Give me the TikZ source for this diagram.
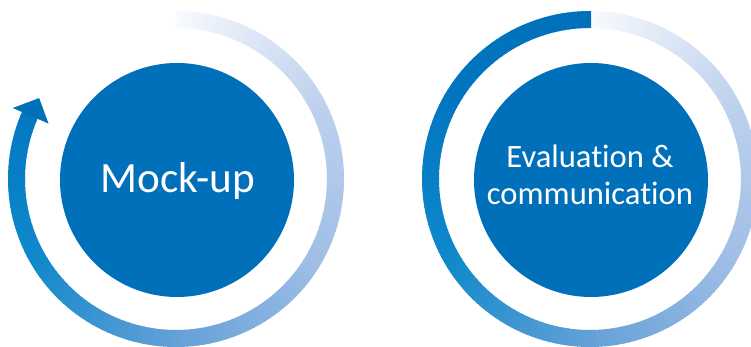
\documentclass[tikz,border=0pt]{standalone}
\usepackage{fontspec}
\setmainfont{Carlito}[Ligatures=NoCommon,Contextuals=NoAlternate]
\usetikzlibrary{calc}

\definecolor{discblue}{HTML}{0070BA}
\definecolor{ring0}{HTML}{F8FAFE}
\definecolor{ring1}{HTML}{C0D2EE}
\definecolor{ring2}{HTML}{A0BEE6}
\definecolor{ring3}{HTML}{64A0D7}
\definecolor{ring4}{HTML}{1089CB}
\definecolor{ring5}{HTML}{0076C0}
\definecolor{ring6}{HTML}{0070B9}

% ring drawn clockwise from the top, in 2 degree pieces
\newcommand{\ringsweep}[2]{%
	\foreach \t in {0,2,...,#2} {
		\pgfmathtruncatemacro\seg{\t/60}
		\pgfmathtruncatemacro\nxt{\seg+1}
		\pgfmathtruncatemacro\pct{100*(\t+1-60*\seg)/60}
		\draw[ringpiece,draw=ring\nxt!\pct!ring\seg] (#1) ++(90-\t:159.5) arc[start angle=90-\t, end angle=87.6-\t, radius=159.5];
	}
}

\begin{document}
\begin{tikzpicture}[x=0.5pt,y=0.5pt,
	ringpiece/.style={line width=8.5pt},
	disc/.style={circle,fill=discblue,minimum size=117pt,inner sep=0pt},
	disctext/.style={text=white,align=center,inner sep=0pt}]
	\useasboundingbox (0,0) rectangle (751,347);
	\coordinate (lc) at (176,168);
	\coordinate (rc) at (590,168);
	% left ring with arrow
	\ringsweep{lc}{292}
	\fill[ring6] ($(lc)+(156.5:139)$) -- ($(lc)+(156.5:178)$) -- ($(lc)+(149.4:159)$) -- cycle;
	% right ring
	\ringsweep{rc}{358}
	% discs
	\node[disc] (mockdisc) at (177,167) {};
	\node[disc] (evaldisc) at (591,167) {};
	\node[disctext,font=\fontsize{21.6}{21.6}\selectfont,anchor=base] (mocklabel) at (178,154) {Mock-up};
	\node[disctext,font=\fontsize{16.3}{18.5}\selectfont] (evallabel) at (590,172) {Evaluation \&\\communication};
\end{tikzpicture}
\end{document}
